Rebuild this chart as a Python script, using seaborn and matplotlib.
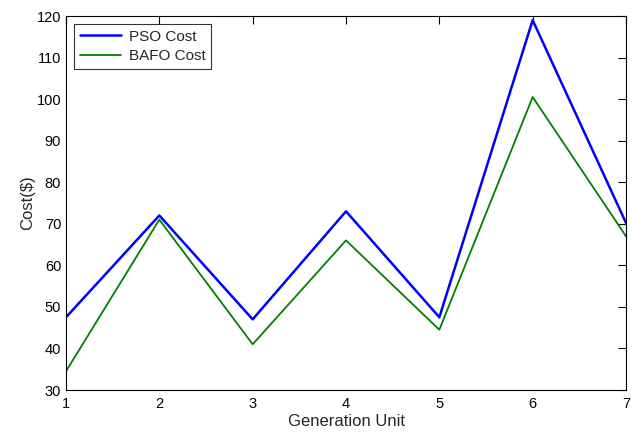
import matplotlib
matplotlib.use("Agg")
import matplotlib.pyplot as plt
import seaborn as sns
import pandas as pd

units = [1, 2, 3, 4, 5, 6, 7]
pso_cost = [47.5, 72, 47, 73, 47.5, 119, 70.2]
bafo_cost = [34.5, 71, 41, 66, 44.5, 100.5, 67]

sns.set_style("white")
plt.rcParams['font.family'] = ['Liberation Sans', 'DejaVu Sans']

df = pd.DataFrame({"unit": units, "PSO Cost": pso_cost, "BAFO Cost": bafo_cost})

fig = plt.figure(figsize=(6.34, 4.32), dpi=100)
ax = fig.add_axes([66/634, 42/432, 560/634, 374/432])
sns.lineplot(data=df, x="unit", y="PSO Cost", ax=ax, color="#0000ff", linewidth=1.8, label="PSO Cost")
sns.lineplot(data=df, x="unit", y="BAFO Cost", ax=ax, color="#008000", linewidth=1.3, label="BAFO Cost")

ax.set_xlim(1, 7)
ax.set_ylim(30, 120)
ax.set_xticks(units)
ax.set_yticks(range(30, 121, 10))
ax.tick_params(direction="in", top=True, right=True, length=5.5, width=0.8, labelsize=10.5, colors="black")
ax.tick_params(axis="x", pad=5)
for s in ax.spines.values():
    s.set_color("black")
    s.set_linewidth(0.8)
ax.set_xlabel("Generation Unit", fontsize=12, labelpad=2)
ax.set_ylabel("Cost($)", fontsize=12, labelpad=1)
leg = ax.legend(loc="upper left", fontsize=11, frameon=True, fancybox=False,
                edgecolor="black", borderpad=0.4, handlelength=2.7, handletextpad=0.5,
                labelspacing=0.35, bbox_to_anchor=(0.0, 1.0))
leg.get_frame().set_linewidth(0.8)
fig.savefig("out.png", dpi=100)
